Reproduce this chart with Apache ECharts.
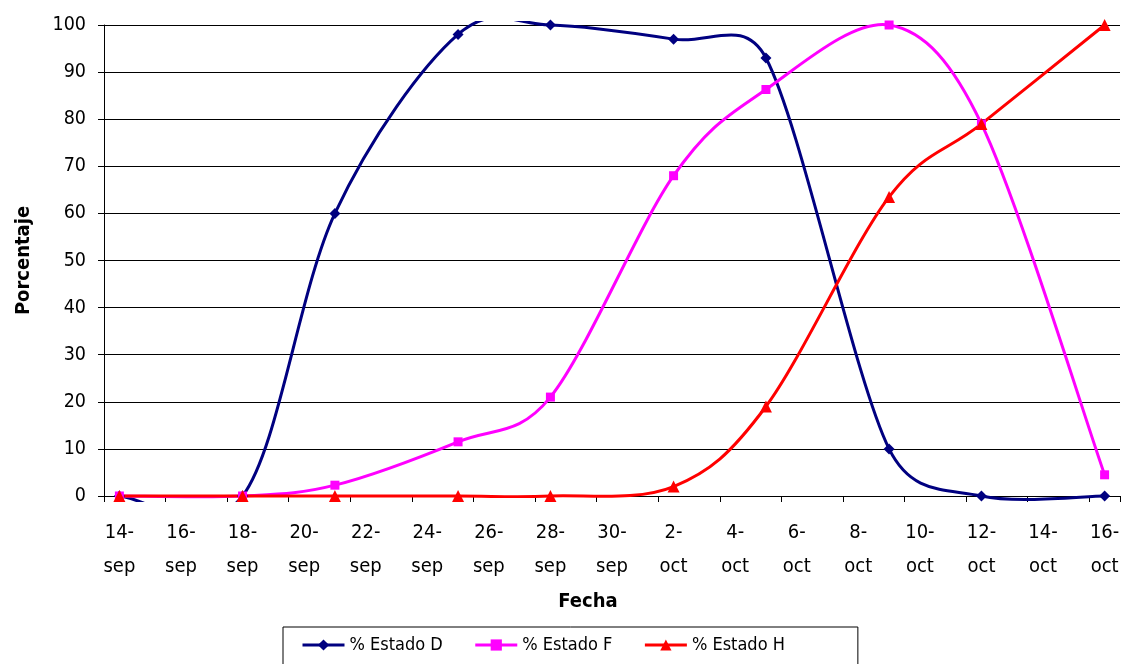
<!DOCTYPE html>
<html>
<head>
<meta charset="utf-8">
<script src="https://cdn.jsdelivr.net/npm/echarts@6/dist/echarts.min.js"></script>
<style>
  html, body { margin: 0; padding: 0; background: #fff; }
  #chart { width: 1125px; height: 664px; }
</style>
</head>
<body>
<div id="chart"></div>
<script>
// Every day on the horizontal axis (one band per day)
const dias = [
  '14-sep','15-sep','16-sep','17-sep','18-sep','19-sep','20-sep','21-sep','22-sep',
  '23-sep','24-sep','25-sep','26-sep','27-sep','28-sep','29-sep','30-sep',
  '1-oct','2-oct','3-oct','4-oct','5-oct','6-oct','7-oct','8-oct','9-oct',
  '10-oct','11-oct','12-oct','13-oct','14-oct','15-oct','16-oct'
];

// Sampling dates and percentage for each state
const fechasMuestreo = ['14-sep','18-sep','21-sep','25-sep','28-sep','2-oct','5-oct','9-oct','12-oct','16-oct'];
const estadoD = [0, 0, 60, 98, 100, 97, 93, 10, 0, 0];
const estadoF = [0, 0, 2.3, 11.5, 21, 68, 86.3, 100, 79, 4.5];
const estadoH = [0, 0, 0, 0, 0, 2, 19, 63.5, 79, 100];

const FONT = "'DejaVu Sans Condensed', 'DejaVu Sans', sans-serif";

function pares(valores) {
  return fechasMuestreo.map((f, i) => [f, valores[i]]);
}

function dist(a, b) {
  return Math.hypot(b[0] - a[0], b[1] - a[1]);
}

// Smoothed curve through the sampled points: cubic Bezier segments whose
// tangents come from the neighbouring points (1/6 of the chord), with each
// control arm limited to half of its segment. Points are placed with the
// chart's own coordinate system.
function curvaSuave(valores, color) {
  return {
    type: 'custom',
    coordinateSystem: 'cartesian2d',
    data: [[0, 0]],
    silent: true,
    animation: false,
    renderItem: function (params, api) {
      const pts = fechasMuestreo.map((f, i) => api.coord([dias.indexOf(f), valores[i]]));
      let d = 'M' + pts[0][0] + ' ' + pts[0][1];
      for (let i = 0; i < pts.length - 1; i++) {
        const p0 = pts[i - 1] || pts[i];
        const p1 = pts[i];
        const p2 = pts[i + 1];
        const p3 = pts[i + 2] || pts[i + 1];
        const d12 = dist(p1, p2), d02 = dist(p0, p2), d13 = dist(p1, p3);
        const f1 = (d02 / 6 < d12 / 2 || d02 === 0) ? 1 / 6 : (d12 / 2) / d02;
        const f2 = (d13 / 6 < d12 / 2 || d13 === 0) ? 1 / 6 : (d12 / 2) / d13;
        const c1x = p1[0] + (p2[0] - p0[0]) * f1, c1y = p1[1] + (p2[1] - p0[1]) * f1;
        const c2x = p2[0] - (p3[0] - p1[0]) * f2, c2y = p2[1] - (p3[1] - p1[1]) * f2;
        d += ' C' + c1x + ' ' + c1y + ' ' + c2x + ' ' + c2y + ' ' + p2[0] + ' ' + p2[1];
      }
      const cs = params.coordSys;
      return {
        type: 'group',
        children: [{
          type: 'path',
          shape: { pathData: d },
          style: { fill: 'none', stroke: color, lineWidth: 3, lineJoin: 'round', lineCap: 'round' }
        }],
        clipPath: {
          type: 'rect',
          shape: { x: cs.x, y: cs.y - 4, width: cs.width, height: cs.height + 10 }
        }
      };
    }
  };
}

// Markers of each state (the line itself is drawn by curvaSuave)
const marcadores = (nombre, valores, color, simbolo, tam) => ({
  name: nombre,
  type: 'line',
  data: pares(valores),
  smooth: false,
  clip: false,
  symbol: simbolo,
  symbolSize: tam,
  showAllSymbol: true,
  lineStyle: { color: color, width: 3, opacity: 0 },
  itemStyle: { color: color, borderColor: color, borderWidth: 0 },
  emphasis: { disabled: true },
  animation: false
});

const chart = echarts.init(document.getElementById('chart'), null, { renderer: 'canvas' });

chart.setOption({
  backgroundColor: '#ffffff',
  animation: false,
  textStyle: { fontFamily: FONT, color: '#000' },
  grid: { left: 104, right: 5, top: 25, bottom: 168, containLabel: false },
  xAxis: {
    type: 'category',
    data: dias,
    boundaryGap: true,
    name: 'Fecha',
    nameLocation: 'middle',
    nameGap: 96,
    nameTextStyle: {
      fontFamily: FONT, fontSize: 20, fontWeight: 'bold', color: '#000',
      padding: [0, 48, 0, 0]
    },
    axisLine: { lineStyle: { color: '#000', width: 1 } },
    axisTick: { show: true, interval: 1, length: 6, lineStyle: { color: '#000' } },
    axisLabel: {
      interval: 1,
      margin: 20,
      fontFamily: FONT,
      fontSize: 20,
      lineHeight: 34,
      color: '#000',
      formatter: v => v.replace('-', '-\n')
    },
    splitLine: { show: false }
  },
  yAxis: {
    type: 'value',
    min: 0,
    max: 100,
    interval: 10,
    name: 'Porcentaje',
    nameLocation: 'middle',
    nameGap: 70,
    nameTextStyle: { fontFamily: FONT, fontSize: 20, fontWeight: 'bold', color: '#000' },
    axisLine: { show: true, lineStyle: { color: '#000', width: 1 } },
    axisTick: { show: true, length: 6, lineStyle: { color: '#000' } },
    axisLabel: { margin: 18, fontFamily: FONT, fontSize: 19.5, color: '#000' },
    splitLine: { show: true, lineStyle: { color: '#000', width: 1 } }
  },
  legend: {
    left: 283,
    top: 627,
    orient: 'horizontal',
    padding: [9, 73, 12, 18],
    itemGap: 31,
    itemWidth: 42,
    itemHeight: 14,
    borderColor: '#000',
    borderWidth: 1,
    lineStyle: { width: 3, opacity: 1 },
    textStyle: { fontFamily: FONT, fontSize: 18, color: '#000' },
    data: ['% Estado D', '% Estado F', '% Estado H']
  },
  series: [
    curvaSuave(estadoD, '#000080'),
    marcadores('% Estado D', estadoD, '#000080', 'diamond', 11),
    curvaSuave(estadoF, '#ff00ff'),
    marcadores('% Estado F', estadoF, '#ff00ff', 'rect', 9),
    curvaSuave(estadoH, '#ff0000'),
    marcadores('% Estado H', estadoH, '#ff0000', 'triangle', 12)
  ]
});
</script>
</body>
</html>
